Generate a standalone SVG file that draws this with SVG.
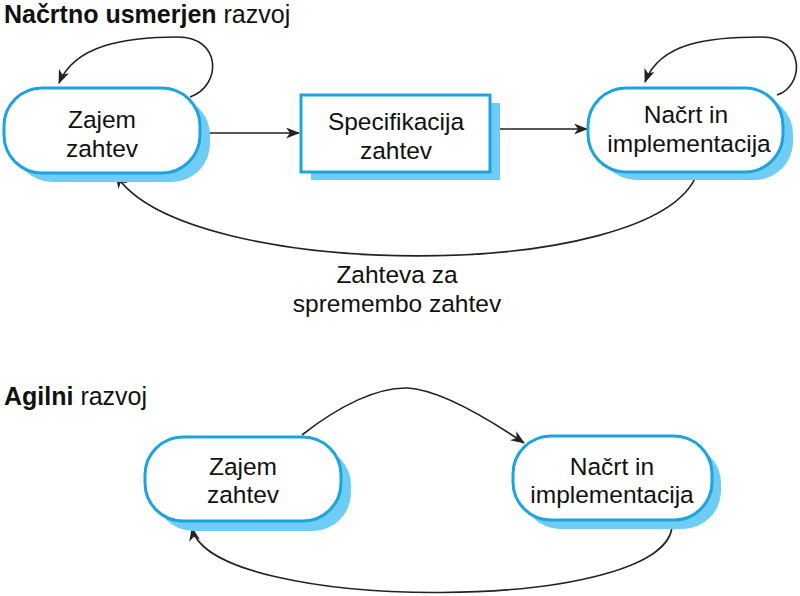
<svg xmlns="http://www.w3.org/2000/svg" width="800" height="596" viewBox="0 0 800 596">
<defs>
<style>
.sh{fill:#6fcdf5;stroke:none}
.nd{fill:#ffffff;stroke:#1ba4e0;stroke-width:3}
.tx{font-family:"Liberation Sans",Arial,sans-serif;font-size:24.5px;fill:#111;text-anchor:middle}
.tt{font-family:"Liberation Sans",Arial,sans-serif;font-size:25px;fill:#111}
.cn{fill:none;stroke:#222;stroke-width:1.6}
</style>
<marker id="ah" markerWidth="15" markerHeight="11" refX="13" refY="5.5" orient="auto" markerUnits="userSpaceOnUse">
<path d="M0,0 L14,5.5 L0,11 L4,5.5 z" fill="#222"/>
</marker>
</defs>
<rect width="800" height="596" fill="#ffffff"/>
<text class="tt" x="4" y="23"><tspan font-weight="bold">Načrtno usmerjen</tspan> razvoj</text>
<text class="tt" x="4" y="405"><tspan font-weight="bold">Agilni</tspan> razvoj</text>

<g id="connectors">
<path class="cn" marker-end="url(#ah)" d="M200,133 L299,133"/>
<path class="cn" marker-end="url(#ah)" d="M490,129 L587,129"/>
<path class="cn" marker-end="url(#ah)" d="M190,97 C222,86 222,37 178,37 C125,37 75,45 59,83"/>
<path class="cn" marker-end="url(#ah)" d="M777,95 C805,86 805,37 762,37 C710,37 660,42 645,82"/>
<path class="cn" marker-end="url(#ah)" d="M697,174 C655,284 185,282 116,175"/>
<path class="cn" marker-end="url(#ah)" d="M302,435 C340,405 378,387 408,388 C440,390 490,420 524,443"/>
<path class="cn" marker-end="url(#ah)" d="M672,522 C680,615 210,615 192,528"/>
</g>
<text class="tx" x="397" y="283">Zahteva za</text>
<text class="tx" x="397" y="312">spremembo zahtev</text>

<g id="zajem1">
<rect class="sh" x="14" y="97" width="196" height="85" rx="38"/>
<rect class="nd" x="4" y="88" width="196" height="85" rx="38"/>
<text class="tx" x="102" y="128">Zajem</text>
<text class="tx" x="102" y="157">zahtev</text>
</g>
<g id="specifikacija">
<rect class="sh" x="311" y="103" width="189" height="77"/>
<rect class="nd" x="301" y="95" width="189" height="77"/>
<text class="tx" x="396" y="130">Specifikacija</text>
<text class="tx" x="396" y="159">zahtev</text>
</g>
<g id="nacrt1">
<rect class="sh" x="598" y="96" width="195" height="84" rx="38"/>
<rect class="nd" x="588" y="88" width="195" height="84" rx="38"/>
<text class="tx" x="686" y="123">Načrt in</text>
<text class="tx" x="689" y="152">implementacija</text>
</g>
<g id="zajem2">
<rect class="sh" x="155" y="447" width="196" height="84" rx="38"/>
<rect class="nd" x="145" y="437" width="196" height="84" rx="38"/>
<text class="tx" x="243" y="475">Zajem</text>
<text class="tx" x="243" y="503">zahtev</text>
</g>
<g id="nacrt2">
<rect class="sh" x="522" y="445" width="199" height="84" rx="38"/>
<rect class="nd" x="513" y="436" width="199" height="84" rx="38"/>
<text class="tx" x="612" y="475">Načrt in</text>
<text class="tx" x="612" y="503">implementacija</text>
</g>
</svg>
